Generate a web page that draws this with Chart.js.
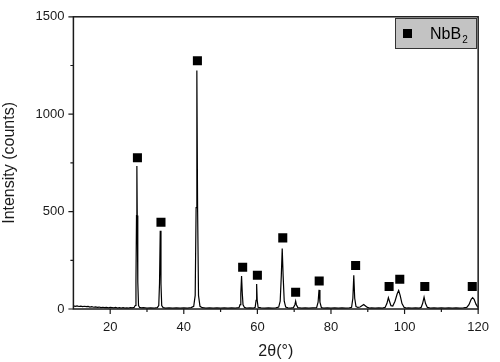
<!DOCTYPE html>
<html>
<head>
<meta charset="utf-8">
<script src="https://cdn.jsdelivr.net/npm/chart.js@4"></script>
<style>
  html, body { margin: 0; padding: 0; background: #fff; }
  #wrap { width: 500px; height: 362px; }
</style>
</head>
<body>
<div id="wrap"><canvas id="xrd"></canvas></div>
<script>
// 2theta (deg) and intensity (counts)
const angle = [
  10, 10.5, 11, 11.5, 12, 12.5, 13, 13.5, 14, 14.5, 15, 15.5, 16, 16.5, 17, 17.5, 18, 18.5, 19, 19.5,
  20, 21, 21.5, 22, 22.5, 23, 23.5, 24, 24.5, 25, 25.5, 26, 26.5, 26.8, 27.0, 27.15, 27.25, 27.35, 27.5, 27.7,
  28.0, 28.5, 29, 30, 31, 32, 32.8, 33.2, 33.4, 33.6, 33.8, 34.0, 34.4, 35, 36, 37, 38, 39, 40, 41,
  42, 42.7, 43.1, 43.35, 43.55, 43.75, 44.0, 44.4, 45, 46, 47, 48, 49, 50, 51, 52, 53, 54, 55, 55.3,
  55.5, 55.7, 55.9, 56.1, 56.5, 57, 58, 59, 59.4, 59.65, 59.8, 59.95, 60.2, 61, 62, 63, 64, 65, 65.8, 66.2,
  66.5, 66.75, 67.0, 67.3, 67.7, 68.3, 69, 69.8, 70.2, 70.4, 70.6, 71.0, 72, 73, 74, 75, 76.1, 76.5, 76.75, 77.0,
  77.4, 78, 79, 80, 81, 82, 83, 84, 85, 85.6, 85.95, 86.2, 86.45, 86.8, 87.3, 87.9, 88.5, 88.9, 89.3, 89.9,
  90.5, 91, 92, 93, 94, 94.7, 95.2, 95.6, 95.9, 96.3, 96.8, 97.4, 98.0, 98.4, 98.8, 99.3, 99.9, 100.5, 101, 102,
  103, 104, 104.5, 104.9, 105.3, 105.7, 106.2, 107, 108, 109, 110, 111, 112, 113, 114, 115, 116, 116.9, 117.5, 118.1,
  118.5, 118.9, 119.4, 119.8, 120
];
const counts = [
  16, 14, 16, 13, 15, 12, 14, 12, 13, 10, 12, 9, 11, 8, 10, 7, 9, 7, 8, 6,
  8, 6, 8, 5, 7, 5, 7, 5, 6, 5, 7, 6, 8, 18, 140, 480, 734, 480, 140, 18,
  8, 6, 7, 5, 6, 5, 7, 18, 130, 402, 130, 18, 7, 5, 6, 5, 6, 5, 6, 5,
  7, 14, 70, 520, 1224, 520, 70, 14, 7, 5, 6, 5, 6, 5, 6, 5, 6, 5, 7, 22,
  80, 169, 80, 22, 8, 5, 6, 5, 9, 45, 128, 45, 9, 6, 5, 6, 5, 6, 10, 40,
  170, 310, 170, 40, 10, 6, 5, 7, 22, 40, 22, 7, 5, 6, 5, 6, 7, 35, 98, 35,
  7, 5, 6, 5, 6, 5, 6, 5, 6, 9, 55, 173, 55, 12, 8, 10, 18, 23, 17, 8,
  5, 6, 5, 6, 5, 8, 28, 58, 40, 17, 15, 40, 78, 95, 70, 28, 8, 5, 6, 5,
  6, 5, 8, 28, 61, 28, 8, 5, 6, 5, 6, 5, 6, 5, 6, 5, 6, 8, 22, 50,
  58, 50, 25, 12, 9
];

// NbB2 reflection markers
const markAngle = [27.4, 33.8, 43.7, 56.0, 60.0, 66.9, 70.4, 76.8, 86.7, 95.8, 98.7, 105.5, 118.4];
const markCounts = [776, 445, 1274, 214, 173, 365, 86, 144, 223, 115, 153, 115, 115];

const xTicks = [20, 40, 60, 80, 100, 120];
const xMinor = [30, 50, 70, 90, 110];
const yTicks = [0, 500, 1000, 1500];
const yMinor = [250, 750, 1250];

const FONT = '"Liberation Sans", Arial, sans-serif';
const INK = '#1a1a1a';

const framePlugin = {
  id: 'frame',
  afterDraw(chart) {
    const { ctx, chartArea: a, scales } = chart;
    const x = scales.x, y = scales.y;
    ctx.save();
    ctx.strokeStyle = INK;
    ctx.lineWidth = 1.5;
    ctx.strokeRect(a.left, a.top, a.right - a.left, a.bottom - a.top);

    ctx.lineWidth = 1.2;
    ctx.beginPath();
    xTicks.forEach(v => { const p = x.getPixelForValue(v); ctx.moveTo(p, a.bottom); ctx.lineTo(p, a.bottom + 5); });
    xMinor.forEach(v => { const p = x.getPixelForValue(v); ctx.moveTo(p, a.bottom); ctx.lineTo(p, a.bottom + 3); });
    yTicks.forEach(v => { const p = y.getPixelForValue(v); ctx.moveTo(a.left, p); ctx.lineTo(a.left - 5, p); });
    yMinor.forEach(v => { const p = y.getPixelForValue(v); ctx.moveTo(a.left, p); ctx.lineTo(a.left - 3, p); });
    ctx.stroke();

    // legend box
    const bx = 395, by = 18, bw = 81, bh = 30;
    ctx.fillStyle = '#c3c3c3';
    ctx.fillRect(bx, by, bw, bh);
    ctx.strokeStyle = '#333';
    ctx.lineWidth = 1;
    ctx.strokeRect(bx + 0.5, by + 0.5, bw, bh);
    ctx.fillStyle = '#000';
    ctx.fillRect(403, 29, 9, 9);
    ctx.font = '16px ' + FONT;
    ctx.textBaseline = 'alphabetic';
    ctx.fillText('NbB', 430, 39);
    const w = ctx.measureText('NbB').width;
    ctx.font = '10px ' + FONT;
    ctx.fillText('2', 430 + w + 1, 43);
    ctx.restore();
  }
};

new Chart(document.getElementById('xrd'), {
  type: 'line',
  data: {
    datasets: [
      {
        label: 'pattern',
        data: angle.map((a, i) => ({ x: a, y: counts[i] })),
        borderColor: '#000',
        borderWidth: 1.2,
        pointRadius: 0,
        tension: 0,
        order: 2
      },
      {
        type: 'scatter',
        label: 'NbB2',
        data: markAngle.map((a, i) => ({ x: a, y: markCounts[i] })),
        pointStyle: 'rect',
        pointRadius: 6.4,
        backgroundColor: '#000',
        borderColor: '#000',
        borderWidth: 0,
        order: 1
      }
    ]
  },
  options: {
    responsive: true,
    maintainAspectRatio: false,
    animation: false,
    layout: { padding: { top: 8, right: 13, left: 0, bottom: 0 } },
    plugins: { legend: { display: false }, tooltip: { enabled: false } },
    scales: {
      x: {
        type: 'linear',
        min: 10,
        max: 120,
        afterBuildTicks: s => { s.ticks = xTicks.map(v => ({ value: v })); },
        afterFit: s => { s.height = 53; },
        grid: { display: false, drawTicks: false },
        border: { display: false },
        ticks: { color: INK, font: { family: FONT, size: 13 }, padding: 11, maxRotation: 0, callback: v => String(v) },
        title: { display: true, text: '2θ(°)', color: INK, font: { family: FONT, size: 16 }, padding: { top: 0, bottom: 1 } }
      },
      y: {
        type: 'linear',
        min: 0,
        max: 1500,
        afterBuildTicks: s => { s.ticks = yTicks.map(v => ({ value: v })); },
        afterFit: s => { s.width = 73.4; },
        grid: { display: false, drawTicks: false },
        border: { display: false },
        ticks: { color: INK, font: { family: FONT, size: 13 }, padding: 9, callback: v => String(v) },
        title: { display: true, text: 'Intensity (counts)', color: INK, font: { family: FONT, size: 16 }, padding: { top: 0, bottom: 0 } }
      }
    }
  },
  plugins: [framePlugin]
});
</script>
</body>
</html>
